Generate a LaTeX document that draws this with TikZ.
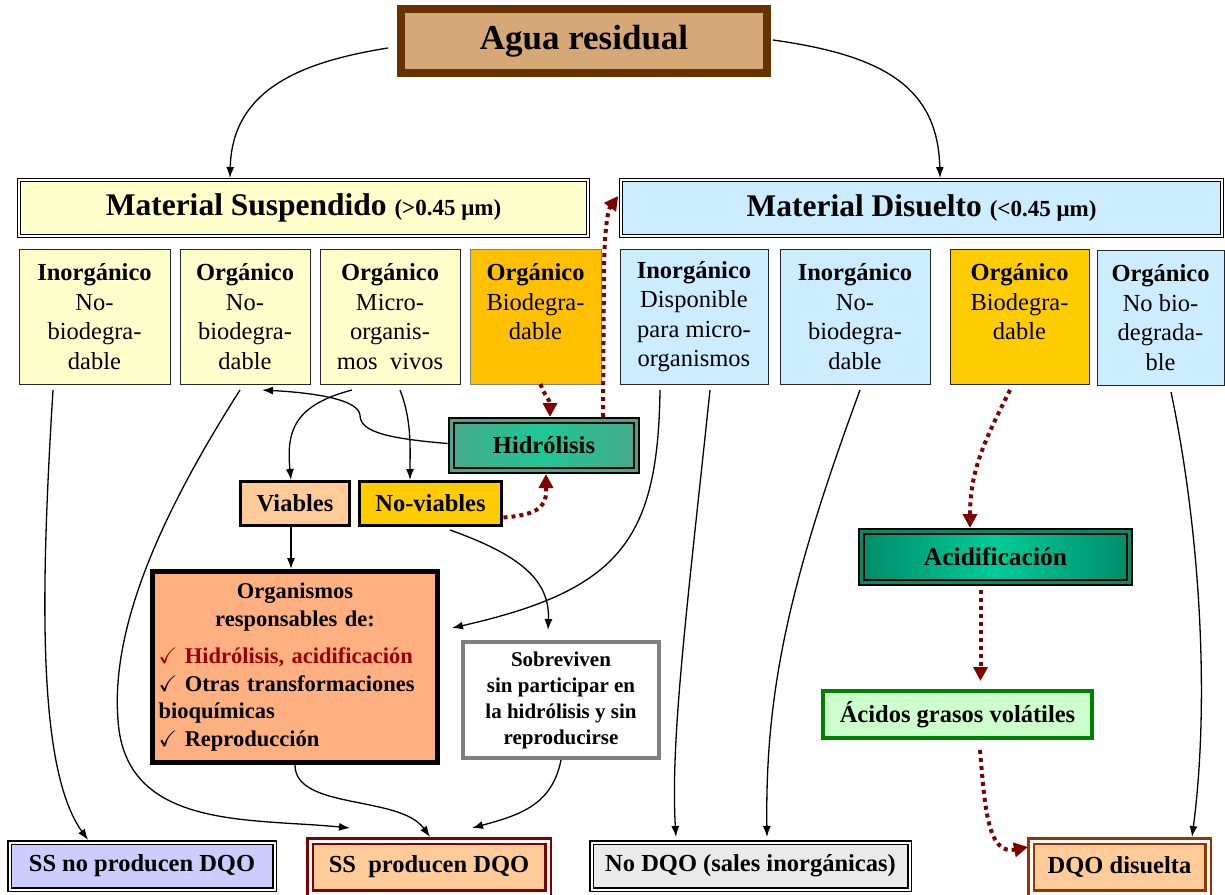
\documentclass[tikz,border=0pt]{standalone}
\usepackage{fontspec}
\setmainfont{Liberation Serif}
\usepackage{amssymb}
\usepackage{tikz}
\usetikzlibrary{positioning}
\usetikzlibrary{arrows.meta}
\definecolor{aguafill}{RGB}{214,168,120}
\definecolor{agualine}{RGB}{102,51,0}
\definecolor{suspfill}{RGB}{255,255,204}
\definecolor{disfill}{RGB}{204,236,255}
\definecolor{biofill}{RGB}{255,192,0}
\definecolor{bioyellow}{RGB}{255,204,0}
\definecolor{hidroedge}{RGB}{70,168,138}
\definecolor{hidromid}{RGB}{30,200,150}
\definecolor{acidedge}{RGB}{0,140,105}
\definecolor{acidmid}{RGB}{0,204,153}
\definecolor{peach}{RGB}{255,204,153}
\definecolor{salmon}{RGB}{255,176,128}
\definecolor{mintfill}{RGB}{204,255,204}
\definecolor{leafgreen}{RGB}{0,128,0}
\definecolor{lavender}{RGB}{204,204,255}
\definecolor{paleGray}{RGB}{234,234,234}
\definecolor{darkred}{RGB}{128,0,0}
\definecolor{brickred}{RGB}{153,0,0}
\definecolor{rust}{RGB}{153,51,0}
\tikzstyle{arrow} = [line width=1.3pt,-{Latex[length=11pt,width=8pt]}]
\tikzstyle{redarrow} = [line width=4pt,color=darkred,dash pattern=on 4pt off 4pt,-{Triangle[length=14pt,width=14pt]}]
\tikzstyle{box} = [inner sep=0pt,outer sep=0pt,align=center,font=\bfseries\fontsize{24.5}{29.5}\selectfont]
\tikzstyle{cell} = [box,draw=black!85,line width=1pt,minimum height=135pt,font=\fontsize{24.5}{29.5}\selectfont]
\tikzstyle{dframe} = [box,draw,double=white,line width=1.2pt,double distance=2pt]
\tikzstyle{process} = [box,draw=black,line width=2.2pt,double distance=3pt]

\begin{document}
\begin{tikzpicture}[x=1pt,y=1pt]
	\useasboundingbox (0,0) rectangle (1225,-894);
	\node[box,draw=agualine,line width=8pt,fill=aguafill,minimum width=366pt,minimum height=64pt,font=\bfseries\fontsize{35}{40}\selectfont] (agua) at (584,-41) {Agua residual};
	\node[dframe,fill=suspfill,minimum width=568.6pt,minimum height=55.6pt,font=\bfseries\fontsize{31.5}{36}\selectfont] (suspended) at (303.5,-208) {Material Suspendido {\fontsize{23}{27}\selectfont(>0.45 μm)}};
	\node[dframe,fill=disfill,minimum width=600.6pt,minimum height=55.6pt,font=\bfseries\fontsize{31.5}{36}\selectfont] (dissolved) at (921.5,-208) {Material Disuelto {\fontsize{23}{27}\selectfont(<0.45 μm)}};
	\node[cell,fill=suspfill,minimum width=151pt] (b1) at (94.5,-316.5) {\textbf{Inorgánico}\\No-\\biodegra-\\dable};
	\node[cell,fill=suspfill,minimum width=130pt] (b2) at (245,-316.5) {\textbf{Orgánico}\\No-\\biodegra-\\dable};
	\node[cell,fill=suspfill,minimum width=140pt] (b3) at (390,-316.5) {\textbf{Orgánico}\\Micro-\\organis-\\mos\ \ vivos};
	\node[cell,fill=biofill,draw=black!50,minimum width=131pt] (b4) at (535.5,-316.5) {\textbf{Orgánico}\\Biodegra-\\dable\\~};
	\node[cell,fill=disfill,minimum width=148pt] (b5) at (694,-316.5) {\textbf{Inorgánico}\\Disponible\\para micro-\\organismos};
	\node[cell,fill=disfill,minimum width=150pt] (b6) at (855,-316.5) {\textbf{Inorgánico}\\No-\\biodegra-\\dable};
	\node[cell,fill=bioyellow,minimum width=139pt] (b7) at (1019.5,-316.5) {\textbf{Orgánico}\\Biodegra-\\dable\\~};
	\node[cell,fill=disfill,minimum width=127pt] (b8) at (1160.5,-317.5) {\textbf{Orgánico}\\No bio-\\degrada-\\ble};
	\node[process,double=hidroedge,left color=hidroedge,right color=hidroedge,middle color=hidromid,minimum width=184.6pt,minimum height=49.6pt] (hidro) at (544,-445.5) {Hidrólisis};
	\node[box,draw,line width=3pt,fill=peach,minimum width=109pt,minimum height=44pt] (viables) at (295,-503.5) {Viables};
	\node[box,draw,line width=3pt,fill=bioyellow,minimum width=142pt,minimum height=44pt,right=10pt of viables] (noviables) {No-viables};
	\node[box,draw,line width=5pt,fill=salmon,minimum width=285pt,minimum height=191pt,text width=273pt,align=left,font=\bfseries\fontsize{22.5}{27.5}\selectfont] (organisms) at (295,-667) {\hspace*{\fill}Organismos\hspace*{\fill}\null\\
		\hspace*{\fill}responsables de:\hspace*{\fill}\null\\[10pt]
		{\color{brickred}$\checkmark$ Hidrólisis, acidificación}\\
		$\checkmark$ Otras transformaciones\\
		bioquímicas\\
		$\checkmark$ Reproducción};
	\node[box,draw=gray,line width=4pt,fill=white,minimum width=196pt,minimum height=116pt,font=\bfseries\fontsize{21}{26}\selectfont] (survive) at (561,-700) {Sobreviven\\sin participar en\\la hidrólisis y sin\\reproducirse};
	\node[process,double=acidedge,left color=acidedge,right color=acidedge,middle color=acidmid,minimum width=267.6pt,minimum height=50.6pt,font=\bfseries\fontsize{25.5}{30}\selectfont] (acidif) at (995.5,-557) {Acidificación};
	\node[box,draw=leafgreen,line width=4pt,fill=mintfill,minimum width=269pt,minimum height=47pt] (acidos) at (957.5,-714.5) {Ácidos grasos volátiles};
	\node[dframe,fill=lavender,minimum width=265pt,minimum height=47pt] (ssno) at (142,-866) {SS no producen DQO};
	\node[box,draw=darkred,double=white,line width=2.5pt,double distance=3pt,fill=peach,minimum width=238pt,minimum height=52pt] (ssyes) at (429,-867) {SS\ \ producen DQO};
	\node[dframe,fill=paleGray,minimum width=318pt,minimum height=47pt] (nodqo) at (750.5,-866) {No DQO (sales inorgánicas)};
	\node[box,draw=rust,double=white,line width=2.5pt,double distance=3pt,fill=peach,minimum width=177pt,minimum height=52pt] (dqodis) at (1119.5,-867) {DQO disuelta};
	\draw[arrow] ([xshift=-13pt,yshift=-7pt]agua.west) .. controls (300,-62) and (232,-90) .. ([xshift=-73.5pt,yshift=2.2pt]suspended.north);
	\draw[arrow] ([xshift=6pt,yshift=1pt]agua.east) .. controls (880,-55) and (938,-85) .. ([xshift=18.5pt,yshift=2.2pt]dissolved.north);
	\draw[arrow] ([xshift=-41.5pt,yshift=-6pt]b1.south) .. controls (40,-600) and (38,-770) .. ([xshift=-54pt,yshift=2.5pt]ssno.north);
	\draw[arrow] ([xshift=-5pt,yshift=-6pt]b2.south) .. controls (170,-500) and (110,-620) .. (118,-720) .. controls (125,-830) and (250,-818) .. ([xshift=-79pt,yshift=13pt]ssyes.north);
	\draw[arrow] ([xshift=-4pt,yshift=2pt]hidro.west) .. controls (380,-438) and (360,-430) .. (360,-415) .. controls (358,-397) and (300,-392) .. ([xshift=17pt,yshift=-6pt]b2.south);
	\draw[arrow] ([xshift=-38pt,yshift=-6pt]b3.south) .. controls (295,-405) and (286,-430) .. ([xshift=-4pt,yshift=1.5pt]viables.north);
	\draw[arrow] ([xshift=10pt,yshift=-6pt]b3.south) .. controls (412,-420) and (410,-450) .. ([xshift=-20.5pt,yshift=1.5pt]noviables.north);
	\draw[redarrow] ([xshift=5pt]b4.south) .. controls (544,-395) and (550,-400) .. ([xshift=6pt,yshift=3.7pt]hidro.north);
	\draw[redarrow] ([xshift=59pt,yshift=3.7pt]hidro.north) -- (604,-265) .. controls (605,-225) and (608,-210) .. ([xshift=-3pt,yshift=12pt]dissolved.west);
	\draw[redarrow] ([xshift=2pt,yshift=-14pt]noviables.east) .. controls (535,-515) and (546,-508) .. (546,-492) -- ([xshift=2pt,yshift=-3.7pt]hidro.south);
	\draw[arrow] ([xshift=19.5pt,yshift=-4.5pt]noviables.south) .. controls (520,-555) and (550,-580) .. ([xshift=-13pt,yshift=12pt]survive.north);
	\draw[arrow] ([xshift=-34pt,yshift=-6pt]b5.south) .. controls (658,-540) and (620,-590) .. ([xshift=14.5pt,yshift=39pt]organisms.east);
	\draw[arrow] ([xshift=-4pt,yshift=-1.5pt]viables.south) -- ([xshift=-4pt,yshift=2.5pt]organisms.north);
	\draw[arrow] ([yshift=-2.5pt]organisms.south) .. controls (295,-810) and (400,-795) .. ([xshift=1pt,yshift=4pt]ssyes.north);
	\draw[arrow] ([yshift=-2pt]survive.south) .. controls (552,-805) and (520,-815) .. ([xshift=43pt,yshift=13pt]ssyes.north);
	\draw[arrow] ([xshift=16pt,yshift=-6pt]b5.south) .. controls (688,-600) and (670,-740) .. ([xshift=-74.5pt,yshift=5.5pt]nodqo.north);
	\draw[arrow] ([xshift=5pt,yshift=-6pt]b6.south) .. controls (790,-580) and (765,-690) .. ([xshift=16.5pt,yshift=5.5pt]nodqo.north);
	\draw[redarrow] ([xshift=-9.5pt,yshift=-6pt]b7.south) .. controls (985,-440) and (970,-470) .. ([xshift=-25.5pt,yshift=3.7pt]acidif.north);
	\draw[redarrow] ([xshift=-15pt,yshift=-8pt]acidif.south) -- ([xshift=23pt,yshift=10pt]acidos.north);
	\draw[redarrow] ([xshift=22.5pt,yshift=-12pt]acidos.south) .. controls (985,-810) and (988,-855) .. ([xshift=-3pt,yshift=-6pt]dqodis.north west);
	\draw[arrow] ([xshift=10.5pt,yshift=-7pt]b8.south) .. controls (1200,-530) and (1210,-700) .. ([xshift=72.5pt,yshift=4pt]dqodis.north);
\end{tikzpicture}
\end{document}
